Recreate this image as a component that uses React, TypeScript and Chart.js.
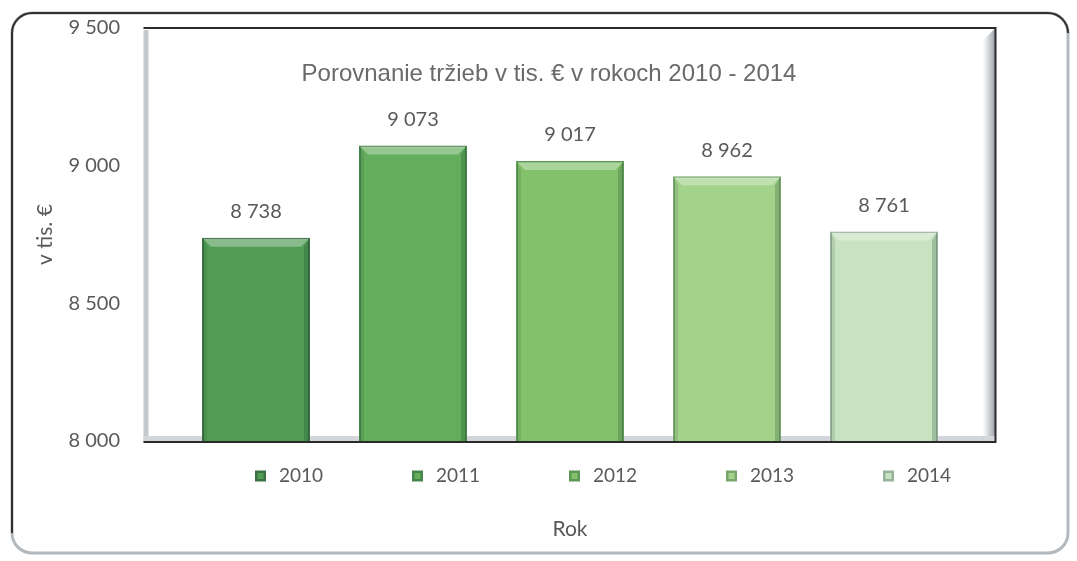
import { useEffect, useRef } from "react";
import { Chart, registerables } from "chart.js";

Chart.register(...registerables);

const categories = ["2010", "2011", "2012", "2013", "2014"];
const revenues = [8738, 9073, 9017, 8962, 8761];
const barColors = ["#529d56", "#63ad5d", "#84c16b", "#a3d28b", "#c7e3bf"];
const barBorders = ["#3a7243", "#47864b", "#5c9856", "#78a66c", "#97b29a"];
const yTickValues = [8000, 8500, 9000, 9500];
const chartTitle = "Porovnanie tržieb v tis. € v rokoch 2010 - 2014";
const yTitle = "v tis. €";
const xTitle = "Rok";

const FONT = "Lato, 'Open Sans', sans-serif";
const TEXT = "#595959";

const fmt = (v: number) => String(v).replace(/\B(?=(\d{3})+(?!\d))/g, " ");

const decorPlugin = {
  id: "decor",
  beforeDraw(chart: any) {
    const { ctx, chartArea: a, width, height } = chart;
    ctx.save();
    // outer rounded frame
    const x0 = 12, y0 = 13, x1 = width - 9, y1 = height - 8, r = 20;
    ctx.beginPath();
    ctx.roundRect(x0, y0, x1 - x0, y1 - y0, r);
    ctx.lineWidth = 3;
    ctx.strokeStyle = "#b3b8bd";
    ctx.stroke();
    ctx.beginPath();
    ctx.moveTo(x0, y1 - r);
    ctx.lineTo(x0, y0 + r);
    ctx.arcTo(x0, y0, x0 + r, y0, r);
    ctx.lineTo(x1 - r, y0);
    ctx.arcTo(x1, y0, x1, y0 + r, r);
    ctx.lineWidth = 2;
    ctx.strokeStyle = "#2f2f2f";
    ctx.stroke();

    // plot frame (3D walls)
    const L = a.left - 34, R = a.right + 33, T = a.top, B = a.bottom;
    ctx.fillStyle = "#c4c9ce";
    ctx.fillRect(L, T + 2, 5, B - T - 2);
    const g = ctx.createLinearGradient(R - 13, 0, R, 0);
    g.addColorStop(0, "rgba(160,166,172,0)");
    g.addColorStop(1, "rgba(140,146,152,0.9)");
    ctx.fillStyle = g;
    ctx.beginPath();
    ctx.moveTo(R - 13, T + 13);
    ctx.lineTo(R, T);
    ctx.lineTo(R, B);
    ctx.lineTo(R - 13, B);
    ctx.closePath();
    ctx.fill();
    ctx.fillStyle = "#d2d5d9";
    ctx.fillRect(L, B - 5, R - L, 5);
    ctx.fillStyle = "#2a2a2a";
    ctx.fillRect(L, T - 1, R - L, 2);
    ctx.fillRect(R - 1, T - 1, 2, B - T + 3);
    ctx.fillRect(L, B, R - L, 2);
    ctx.restore();
  },
  afterDatasetsDraw(chart: any) {
    const { ctx, chartArea: a } = chart;
    const meta = chart.getDatasetMeta(0);
    ctx.save();
    meta.data.forEach((bar: any, i: number) => {
      const { x, y, width, base } = bar.getProps(["x", "y", "width", "base"], true);
      const bottom = Math.min(base, a.bottom);
      const l = x - width / 2, rr = x + width / 2, b = 9;
      // bevel highlight on top
      ctx.fillStyle = "rgba(255,255,255,0.32)";
      ctx.beginPath();
      ctx.moveTo(l + 1, y + 1);
      ctx.lineTo(rr - 1, y + 1);
      ctx.lineTo(rr - b, y + b);
      ctx.lineTo(l + b, y + b);
      ctx.closePath();
      ctx.fill();
      // side shading
      ctx.fillStyle = "rgba(20,60,35,0.22)";
      ctx.beginPath();
      ctx.moveTo(rr - 1, y + 1);
      ctx.lineTo(rr - 1, bottom);
      ctx.lineTo(rr - 6, bottom);
      ctx.lineTo(rr - 6, y + b);
      ctx.closePath();
      ctx.fill();
      ctx.fillStyle = "rgba(20,60,35,0.12)";
      ctx.beginPath();
      ctx.moveTo(l + 1, y + 1);
      ctx.lineTo(l + 1, bottom);
      ctx.lineTo(l + 5, bottom);
      ctx.lineTo(l + 5, y + b);
      ctx.closePath();
      ctx.fill();
      // value label
      ctx.fillStyle = TEXT;
      ctx.font = `20px ${FONT}`;
      ctx.textAlign = "center";
      ctx.textBaseline = "middle";
      ctx.fillText(fmt(revenues[i]), x, y - 26);
    });
    ctx.restore();
  },
  afterDraw(chart: any) {
    const { ctx, chartArea: a, scales } = chart;
    ctx.save();
    // title inside plot area
    ctx.fillStyle = "#6a6a6a";
    ctx.font = "24px 'Liberation Sans', Arial, sans-serif";
    ctx.textAlign = "center";
    ctx.textBaseline = "middle";
    ctx.fillText(chartTitle, (a.left + a.right) / 2 - 21, 74);
    // legend under each bar
    const xs = scales.x;
    categories.forEach((c, i) => {
      const cx = xs.getPixelForValue(i);
      const ly = 476;
      ctx.fillStyle = barBorders[i];
      ctx.fillRect(cx - 1, ly - 5.5, 11, 11);
      ctx.fillStyle = barColors[i];
      ctx.fillRect(cx + 1.5, ly - 3, 6, 6);
      ctx.fillStyle = TEXT;
      ctx.font = `19px ${FONT}`;
      ctx.textAlign = "left";
      ctx.textBaseline = "middle";
      ctx.fillText(c, cx + 23, ly);
    });
    ctx.restore();
  },
};

export default function App() {
  const ref = useRef<HTMLCanvasElement | null>(null);

  useEffect(() => {
    if (!ref.current) return;
    const chart = new Chart(ref.current, {
      type: "bar",
      data: {
        labels: categories,
        datasets: [
          {
            label: "Tržby",
            data: revenues,
            backgroundColor: barColors,
            borderColor: barBorders,
            borderWidth: 2,
            categoryPercentage: 1,
            barPercentage: 0.688,
          },
        ],
      },
      options: {
        animation: false,
        responsive: true,
        maintainAspectRatio: false,
        layout: { padding: { left: 20, right: 114.5, top: 28, bottom: 9.4 } },
        plugins: {
          legend: { display: false },
          tooltip: { enabled: false },
          title: { display: false },
        },
        scales: {
          x: {
            grid: { display: false, drawTicks: false },
            border: { display: false },
            ticks: { display: false },
            title: {
              display: true,
              text: xTitle,
              color: TEXT,
              font: { family: FONT, size: 21 },
              padding: { top: 75.4, bottom: 10 },
            },
          },
          y: {
            min: 8000,
            max: 9500,
            grid: { display: false, drawTicks: false },
            border: { display: false },
            afterBuildTicks: (s: any) => {
              s.ticks = yTickValues.map((v) => ({ value: v }));
            },
            afterFit: (s: any) => {
              s.width = 157.5;
              s.paddingTop = 12;
              s.paddingBottom = 12;
            },
            ticks: {
              color: TEXT,
              font: { family: FONT, size: 20 },
              padding: 57.5,
              callback: (v: any) => fmt(Number(v)),
            },
            title: {
              display: true,
              text: yTitle,
              color: TEXT,
              font: { family: FONT, size: 21 },
              padding: { top: 13, bottom: 0 },
            },
          },
        },
      },
      plugins: [decorPlugin],
    });
    return () => chart.destroy();
  }, []);

  return (
    <div style={{ position: "absolute", left: 0, top: 0, width: 1077, height: 561, background: "#fff" }}>
      <canvas ref={ref} />
    </div>
  );
}
